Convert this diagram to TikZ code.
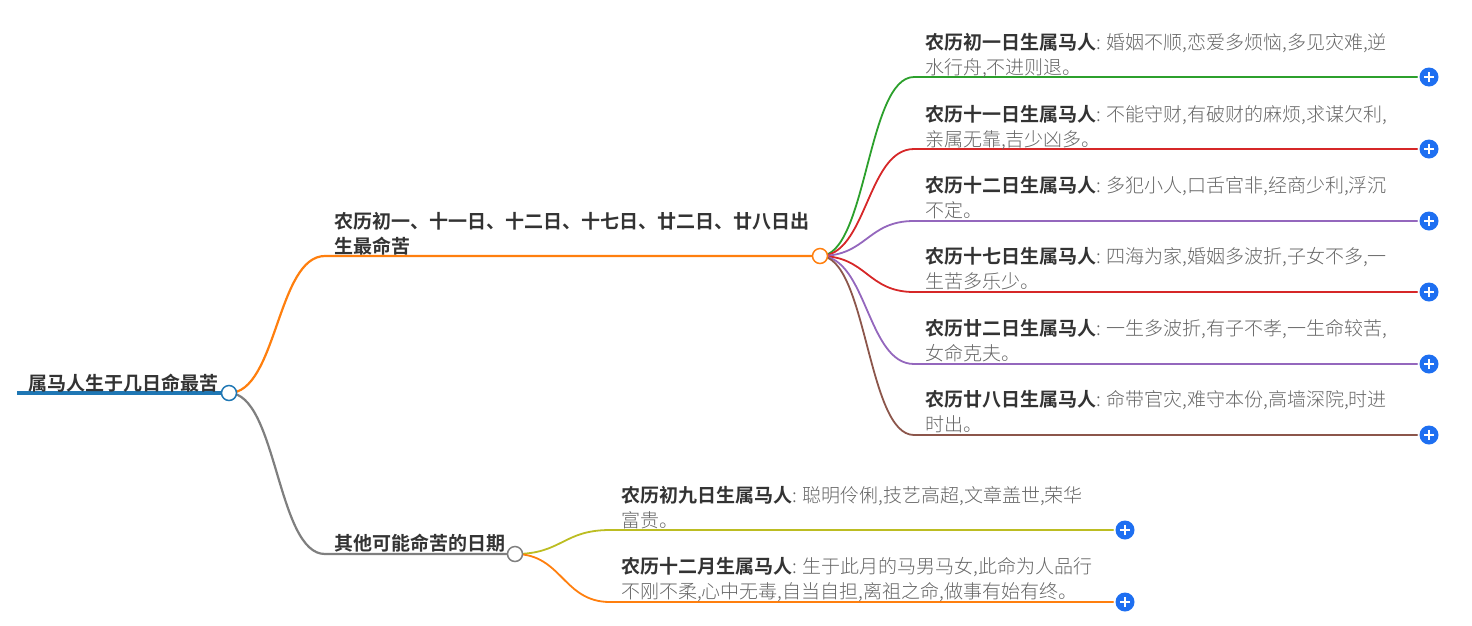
\documentclass[tikz,border=0pt]{standalone}
\usepackage{fontspec}
\setmainfont{Noto Sans CJK SC Light}[BoldFont={Noto Sans CJK SC Bold}]
\usetikzlibrary{backgrounds}
\definecolor{ink}{HTML}{333333}
\definecolor{soft}{HTML}{666666}
\definecolor{cblue}{HTML}{1F77B4}
\definecolor{corange}{HTML}{FF7F0E}
\definecolor{cgray}{HTML}{7F7F7F}
\definecolor{cgreen}{HTML}{2CA02C}
\definecolor{cred}{HTML}{D62728}
\definecolor{cpurple}{HTML}{9467BD}
\definecolor{cbrown}{HTML}{8C564B}
\definecolor{colive}{HTML}{BCBD22}
\definecolor{btn}{HTML}{1E6FF1}
\tikzset{
  x=1pt,y=-1pt,
  tx/.style={anchor=base west,inner sep=0pt,align=left,text=soft,font=\fontsize{19}{25}\selectfont},
  hd/.style={tx,text=ink,font=\fontsize{19}{25}\selectfont\bfseries},
  dot/.style={circle,draw=#1,fill=white,line width=1.5pt,minimum size=15pt,inner sep=0pt},
  plusbtn/.style={circle,fill=btn,minimum size=19pt,inner sep=0pt,
    path picture={\draw[white,line width=2pt]
      ([xshift=-5pt]path picture bounding box.center) -- ([xshift=5pt]path picture bounding box.center)
      ([yshift=-5pt]path picture bounding box.center) -- ([yshift=5pt]path picture bounding box.center);}},
  conn/.style={line width=1.8pt,line cap=round},
  link/.style={conn,draw=#1},
}
\newcommand{\lead}[1]{\textbf{\textcolor{ink}{#1}}}
\begin{document}
\begin{tikzpicture}
\useasboundingbox (0,0) rectangle (1472,625);
% hubs
\node[dot=cblue] (root) at (229,393) {};
\node[dot=corange] (h1) at (820,256) {};
\node[dot=cgray] (h2) at (515,554) {};
\coordinate (r0) at (17,393);
\coordinate (k1) at (325,256);
\coordinate (k2) at (325,554);
% buttons
\node[plusbtn] (b1) at (1429,77) {};
\node[plusbtn] (b2) at (1429,149) {};
\node[plusbtn] (b3) at (1429,221) {};
\node[plusbtn] (b4) at (1429,292) {};
\node[plusbtn] (b5) at (1429,364) {};
\node[plusbtn] (b6) at (1429,435) {};
\node[plusbtn] (b7) at (1125,530) {};
\node[plusbtn] (b8) at (1125,602) {};
\coordinate (e1) at (914,77);
\coordinate (e2) at (914,149);
\coordinate (e3) at (914,221);
\coordinate (e4) at (914,292);
\coordinate (e5) at (914,364);
\coordinate (e6) at (914,435);
\coordinate (e7) at (610,530);
\coordinate (e8) at (610,602);
% texts
\node[hd] (troot) at (28,390) {属马人生于几日命最苦};
\node[hd] (t1) at (334,253) {农历初一、十一日、十二日、十七日、廿二日、廿八日出\\生最命苦};
\node[hd] (t2) at (334,550) {其他可能命苦的日期};
\node[tx] (n1) at (925,74) {\lead{农历初一日生属马人}: 婚姻不顺,恋爱多烦恼,多见灾难,逆\\水行舟,不进则退。};
\node[tx] (n2) at (925,146) {\lead{农历十一日生属马人}: 不能守财,有破财的麻烦,求谋欠利,\\亲属无靠,吉少凶多。};
\node[tx] (n3) at (925,217) {\lead{农历十二日生属马人}: 多犯小人,口舌官非,经商少利,浮沉\\不定。};
\node[tx] (n4) at (925,288) {\lead{农历十七日生属马人}: 四海为家,婚姻多波折,子女不多,一\\生苦多乐少。};
\node[tx] (n5) at (925,360) {\lead{农历廿二日生属马人}: 一生多波折,有子不孝,一生命较苦,\\女命克夫。};
\node[tx] (n6) at (925,431) {\lead{农历廿八日生属马人}: 命带官灾,难守本份,高墙深院,时进\\时出。};
\node[tx] (n7) at (621,527) {\lead{农历初九日生属马人}: 聪明伶俐,技艺高超,文章盖世,荣华\\富贵。};
\node[tx] (n8) at (621,598) {\lead{农历十二月生属马人}: 生于此月的马男马女,此命为人品行\\不刚不柔,心中无毒,自当自担,离祖之命,做事有始有终。};
\begin{scope}[on background layer]
\draw[cblue,line width=4pt] (r0) -- (root.center);
\draw[conn,line width=2.2pt,corange] (root.center) .. controls +(48,0) and +(-48,0) .. (k1) -- (h1.center);
\draw[conn,line width=2.2pt,cgray] (root.center) .. controls +(48,0) and +(-48,0) .. (k2) -- (h2.center);
\draw[link=cgreen] (h1.center) .. controls +(47,0) and +(-47,0) .. (e1) -- ([xshift=-2pt]b1.west);
\draw[link=cred] (h1.center) .. controls +(47,0) and +(-47,0) .. (e2) -- ([xshift=-2pt]b2.west);
\draw[link=cpurple] (h1.center) .. controls +(47,0) and +(-47,0) .. (e3) -- ([xshift=-2pt]b3.west);
\draw[link=cred] (h1.center) .. controls +(47,0) and +(-47,0) .. (e4) -- ([xshift=-2pt]b4.west);
\draw[link=cpurple] (h1.center) .. controls +(47,0) and +(-47,0) .. (e5) -- ([xshift=-2pt]b5.west);
\draw[link=cbrown] (h1.center) .. controls +(47,0) and +(-47,0) .. (e6) -- ([xshift=-2pt]b6.west);
\draw[link=colive] (h2.center) .. controls +(47,0) and +(-47,0) .. (e7) -- ([xshift=-2pt]b7.west);
\draw[link=corange] (h2.center) .. controls +(47,0) and +(-47,0) .. (e8) -- ([xshift=-2pt]b8.west);
\end{scope}
\end{tikzpicture}
\end{document}
